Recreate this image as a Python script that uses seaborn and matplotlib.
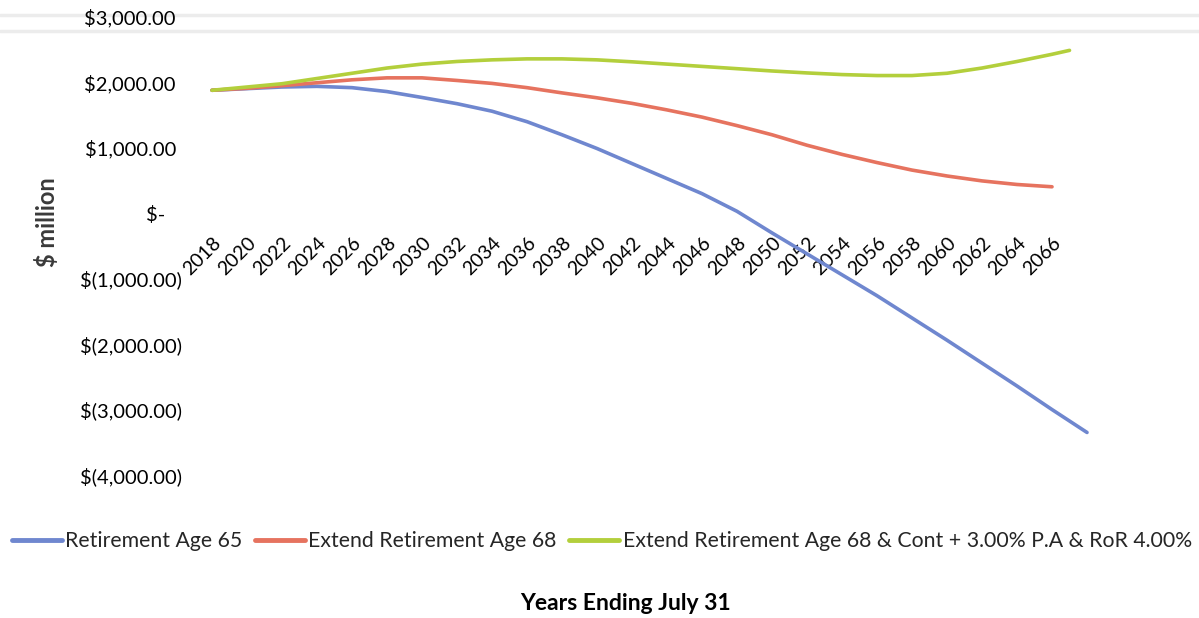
import matplotlib
matplotlib.use("Agg")
import matplotlib.pyplot as plt
from matplotlib.lines import Line2D
from matplotlib.ticker import FuncFormatter
from matplotlib.transforms import ScaledTranslation
import seaborn as sns
import pandas as pd

# Projected fund balance ($ million) by year ending July 31
years_age65 = list(range(2018, 2069, 2))
balance_age65 = [1880, 1905, 1930, 1940, 1920, 1860, 1770, 1675, 1560, 1400,
                 1200, 990, 760, 530, 300, 30, -300, -620, -940, -1260,
                 -1600, -1940, -2290, -2640, -3000, -3350]

years_age68 = list(range(2018, 2067, 2))
balance_age68 = [1880, 1910, 1950, 1995, 2040, 2070, 2070, 2030, 1985, 1920,
                 1840, 1765, 1680, 1580, 1470, 1340, 1200, 1040, 900, 775,
                 660, 570, 495, 440, 405]

years_age68_cont = list(range(2018, 2067, 2)) + [2067]
balance_age68_cont = [1880, 1930, 1980, 2060, 2140, 2220, 2280, 2320, 2345, 2360,
                      2360, 2345, 2315, 2280, 2245, 2210, 2175, 2145, 2120, 2105,
                      2105, 2140, 2220, 2320, 2430, 2490]

series_names = ["Retirement Age 65",
                "Extend Retirement Age 68",
                "Extend Retirement Age 68 & Cont + 3.00% P.A & RoR 4.00%"]
series_colors = ["#6f87cf", "#e6735f", "#b3cf3c"]

x_tick_years = list(range(2018, 2067, 2))
y_ticks = [3000, 2000, 1000, 0, -1000, -2000, -3000, -4000]

df = pd.concat([
    pd.DataFrame({"year": years_age65, "balance": balance_age65, "scenario": series_names[0]}),
    pd.DataFrame({"year": years_age68, "balance": balance_age68, "scenario": series_names[1]}),
    pd.DataFrame({"year": years_age68_cont, "balance": balance_age68_cont, "scenario": series_names[2]}),
], ignore_index=True)

sns.set_theme(style="white")
plt.rcParams["font.family"] = ["Lato", "DejaVu Sans"]

fig = plt.figure(figsize=(11.99, 6.18), dpi=100)
ax = fig.add_axes([0.1622, 0.2314, 0.759, 0.7411])
ax.patch.set_alpha(0)

sns.lineplot(data=df, x="year", y="balance", hue="scenario",
             hue_order=series_names, palette=series_colors,
             linewidth=2.6, ax=ax, legend=False)

ax.set_xlim(2017, 2069)
ax.set_ylim(-4000, 3000)

# Horizontal axis sits on the zero line; all spines hidden
for s in ax.spines.values():
    s.set_visible(False)
ax.spines["bottom"].set_position(("data", 0))

ax.set_xticks(x_tick_years)
ax.set_xticklabels([str(y) for y in x_tick_years], rotation=45,
                   ha="right", va="top", rotation_mode="anchor")
ax.tick_params(axis="x", length=0, pad=15, labelsize=14, labelcolor="black")

def money(v, pos=None):
    if v == 0:
        return "$-"
    if v < 0:
        return "$({:,.2f})".format(abs(v))
    return "${:,.2f}".format(v)

ax.set_yticks(y_ticks)
ax.yaxis.set_major_formatter(FuncFormatter(money))
ax.tick_params(axis="y", length=0, pad=9, labelsize=14.5, labelcolor="black")

# Accounting-style alignment: positives leave room for ")" and the dash sits further in
fig.canvas.draw()
for lab, v in zip(ax.get_yticklabels(), y_ticks):
    if v == 0:
        dx = -17 / 100
    elif v > 0:
        dx = -6 / 100
    else:
        dx = 0
    if dx:
        lab.set_transform(lab.get_transform() + ScaledTranslation(dx, 0, fig.dpi_scale_trans))

ax.set_xlabel("")
ax.set_ylabel("")
ax.grid(False)

fig.text(0.039, 1 - 222 / 618, "$ million", rotation=90, ha="center", va="center",
         fontsize=17, fontweight="bold", color="#3a3a3a")
fig.text(0.522, 1 - 603 / 618, "Years Ending July 31", ha="center", va="center",
         fontsize=16.5, fontweight="bold", color="black")

# Faint rule along the top of the chart, behind the labels
for yy in (15, 31):
    fig.add_artist(Line2D([0, 1], [1 - yy / 618, 1 - yy / 618],
                          transform=fig.transFigure, color="#ececec",
                          linewidth=2.5, zorder=-5))

handles = [Line2D([], [], color=c, linewidth=3.5) for c in series_colors]
fig.legend(handles, series_names, loc="center", bbox_to_anchor=(0.502, 1 - 541 / 618),
           ncol=3, frameon=False, fontsize=15.3, handlelength=2.35, handletextpad=0.15,
           columnspacing=0.6)

fig.savefig("out.png", dpi=100, facecolor="white")
